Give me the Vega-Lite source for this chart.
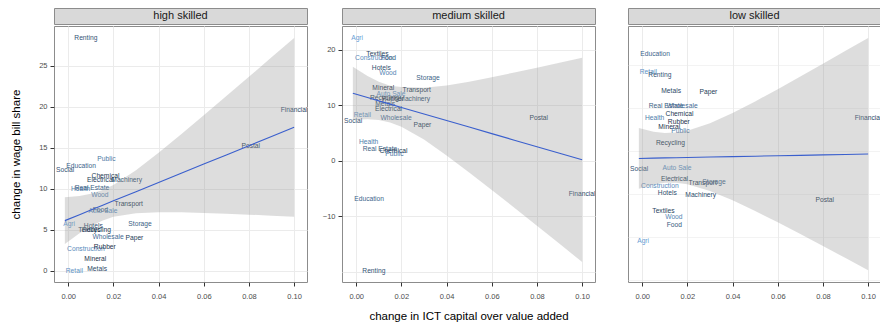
{
  "$schema": "https://vega.github.io/schema/vega-lite/v6.json",
  "background": "white",
  "padding": {"left": 10, "top": 7, "right": 0, "bottom": 0},
  "config": {
    "font": "Liberation Sans",
    "axis": {
      "domain": false,
      "labelFont": "Liberation Sans",
      "labelFontSize": 7.5,
      "labelColor": "#4d4d4d",
      "tickColor": "#333333",
      "tickSize": 4,
      "labelPadding": 3,
      "gridColor": "#ebebeb",
      "titleFont": "Liberation Sans",
      "titleFontSize": 11.5,
      "titleFontWeight": "normal",
      "titleColor": "#000000"
    }
  },
  "datasets": {
    "inds": [
      {"industry": "Agri", "shade": 0.95},
      {"industry": "Retail", "shade": 0.85},
      {"industry": "Construction", "shade": 0.8},
      {"industry": "Auto Sale", "shade": 0.85},
      {"industry": "Wood", "shade": 0.75},
      {"industry": "Health", "shade": 0.7},
      {"industry": "Public", "shade": 0.65},
      {"industry": "Wholesale", "shade": 0.55},
      {"industry": "Education", "shade": 0.5},
      {"industry": "Real Estate", "shade": 0.45},
      {"industry": "Storage", "shade": 0.45},
      {"industry": "Food", "shade": 0.4},
      {"industry": "Social", "shade": 0.35},
      {"industry": "Renting", "shade": 0.35},
      {"industry": "Hotels", "shade": 0.3},
      {"industry": "Machinery", "shade": 0.3},
      {"industry": "Metals", "shade": 0.25},
      {"industry": "Financial", "shade": 0.25},
      {"industry": "Textiles", "shade": 0.2},
      {"industry": "Paper", "shade": 0.15},
      {"industry": "Electrical", "shade": 0.15},
      {"industry": "Chemical", "shade": 0.1},
      {"industry": "Transport", "shade": 0.1},
      {"industry": "Recycling", "shade": 0.1},
      {"industry": "Postal", "shade": 0.1},
      {"industry": "Mineral", "shade": 0.05},
      {"industry": "Rubber", "shade": 0.05}
    ],
    "pts": [
      {"skill": "high", "industry": "Renting", "ict": 0.0078, "wage": 28.4},
      {"skill": "high", "industry": "Public", "ict": 0.0169, "wage": 13.7},
      {"skill": "high", "industry": "Education", "ict": 0.0057, "wage": 12.8},
      {"skill": "high", "industry": "Social", "ict": -0.0014, "wage": 12.35},
      {"skill": "high", "industry": "Chemical", "ict": 0.0165, "wage": 11.6},
      {"skill": "high", "industry": "Electrical", "ict": 0.0143, "wage": 11.06},
      {"skill": "high", "industry": "Machinery", "ict": 0.0259, "wage": 11.1},
      {"skill": "high", "industry": "Health", "ict": 0.0055, "wage": 9.96},
      {"skill": "high", "industry": "Real Estate", "ict": 0.0105, "wage": 10.1},
      {"skill": "high", "industry": "Wood", "ict": 0.014, "wage": 9.23},
      {"skill": "high", "industry": "Transport", "ict": 0.0268, "wage": 8.2},
      {"skill": "high", "industry": "Auto Sale", "ict": 0.0154, "wage": 7.28},
      {"skill": "high", "industry": "Food", "ict": 0.0142, "wage": 7.4},
      {"skill": "high", "industry": "Agri", "ict": 0.0004, "wage": 5.7},
      {"skill": "high", "industry": "Hotels", "ict": 0.0111, "wage": 5.52},
      {"skill": "high", "industry": "Textiles", "ict": 0.0094, "wage": 5.04},
      {"skill": "high", "industry": "Recycling", "ict": 0.0125, "wage": 5.04},
      {"skill": "high", "industry": "Storage", "ict": 0.0318, "wage": 5.7},
      {"skill": "high", "industry": "Wholesale", "ict": 0.0176, "wage": 4.18},
      {"skill": "high", "industry": "Paper", "ict": 0.0293, "wage": 4.06},
      {"skill": "high", "industry": "Construction", "ict": 0.0078, "wage": 2.72},
      {"skill": "high", "industry": "Rubber", "ict": 0.0162, "wage": 2.96},
      {"skill": "high", "industry": "Mineral", "ict": 0.012, "wage": 1.43},
      {"skill": "high", "industry": "Metals", "ict": 0.0128, "wage": 0.28},
      {"skill": "high", "industry": "Retail", "ict": 0.0027, "wage": 0.0},
      {"skill": "high", "industry": "Postal", "ict": 0.0808, "wage": 15.2},
      {"skill": "high", "industry": "Financial", "ict": 0.1, "wage": 19.6},

      {"skill": "medium", "industry": "Agri", "ict": 0.0004, "wage": 22.1},
      {"skill": "medium", "industry": "Textiles", "ict": 0.0094, "wage": 19.2},
      {"skill": "medium", "industry": "Construction", "ict": 0.0078, "wage": 18.6},
      {"skill": "medium", "industry": "Food", "ict": 0.0142, "wage": 18.5},
      {"skill": "medium", "industry": "Hotels", "ict": 0.0111, "wage": 16.7},
      {"skill": "medium", "industry": "Wood", "ict": 0.014, "wage": 15.8},
      {"skill": "medium", "industry": "Storage", "ict": 0.0318, "wage": 15.0},
      {"skill": "medium", "industry": "Mineral", "ict": 0.012, "wage": 13.2},
      {"skill": "medium", "industry": "Transport", "ict": 0.0268, "wage": 12.8},
      {"skill": "medium", "industry": "Auto Sale", "ict": 0.0154, "wage": 12.1},
      {"skill": "medium", "industry": "Machinery", "ict": 0.0259, "wage": 11.2},
      {"skill": "medium", "industry": "Recycling", "ict": 0.0125, "wage": 11.3},
      {"skill": "medium", "industry": "Rubber", "ict": 0.0162, "wage": 11.1},
      {"skill": "medium", "industry": "Metals", "ict": 0.0128, "wage": 10.3},
      {"skill": "medium", "industry": "Electrical", "ict": 0.0143, "wage": 9.4},
      {"skill": "medium", "industry": "Retail", "ict": 0.0027, "wage": 8.2},
      {"skill": "medium", "industry": "Social", "ict": -0.0014, "wage": 7.2},
      {"skill": "medium", "industry": "Wholesale", "ict": 0.0176, "wage": 7.8},
      {"skill": "medium", "industry": "Paper", "ict": 0.0293, "wage": 6.4},
      {"skill": "medium", "industry": "Health", "ict": 0.0055, "wage": 3.5},
      {"skill": "medium", "industry": "Real Estate", "ict": 0.0105, "wage": 2.1},
      {"skill": "medium", "industry": "Chemical", "ict": 0.0165, "wage": 1.8},
      {"skill": "medium", "industry": "Public", "ict": 0.0169, "wage": 1.2},
      {"skill": "medium", "industry": "Education", "ict": 0.0057, "wage": -6.8},
      {"skill": "medium", "industry": "Renting", "ict": 0.0078, "wage": -19.9},
      {"skill": "medium", "industry": "Postal", "ict": 0.0808, "wage": 7.8},
      {"skill": "medium", "industry": "Financial", "ict": 0.1, "wage": -6.0},

      {"skill": "low", "industry": "Education", "ict": 0.0057, "wage": -6.2},
      {"skill": "low", "industry": "Retail", "ict": 0.0027, "wage": -8.34},
      {"skill": "low", "industry": "Renting", "ict": 0.0078, "wage": -8.64},
      {"skill": "low", "industry": "Metals", "ict": 0.0128, "wage": -10.55},
      {"skill": "low", "industry": "Paper", "ict": 0.0293, "wage": -10.6},
      {"skill": "low", "industry": "Real Estate", "ict": 0.0105, "wage": -12.2},
      {"skill": "low", "industry": "Wholesale", "ict": 0.0176, "wage": -12.2},
      {"skill": "low", "industry": "Health", "ict": 0.0055, "wage": -13.6},
      {"skill": "low", "industry": "Chemical", "ict": 0.0165, "wage": -13.2},
      {"skill": "low", "industry": "Rubber", "ict": 0.0162, "wage": -14.1},
      {"skill": "low", "industry": "Mineral", "ict": 0.012, "wage": -14.7},
      {"skill": "low", "industry": "Public", "ict": 0.0169, "wage": -15.15},
      {"skill": "low", "industry": "Recycling", "ict": 0.0125, "wage": -16.6},
      {"skill": "low", "industry": "Social", "ict": -0.0014, "wage": -19.6},
      {"skill": "low", "industry": "Auto Sale", "ict": 0.0154, "wage": -19.45},
      {"skill": "low", "industry": "Electrical", "ict": 0.0143, "wage": -20.7},
      {"skill": "low", "industry": "Transport", "ict": 0.0268, "wage": -21.2},
      {"skill": "low", "industry": "Storage", "ict": 0.0318, "wage": -21.05},
      {"skill": "low", "industry": "Construction", "ict": 0.0078, "wage": -21.6},
      {"skill": "low", "industry": "Hotels", "ict": 0.0111, "wage": -22.4},
      {"skill": "low", "industry": "Machinery", "ict": 0.0259, "wage": -22.6},
      {"skill": "low", "industry": "Textiles", "ict": 0.0094, "wage": -24.4},
      {"skill": "low", "industry": "Wood", "ict": 0.014, "wage": -25.2},
      {"skill": "low", "industry": "Food", "ict": 0.0142, "wage": -26.1},
      {"skill": "low", "industry": "Agri", "ict": 0.0004, "wage": -27.9},
      {"skill": "low", "industry": "Financial", "ict": 0.1, "wage": -13.6},
      {"skill": "low", "industry": "Postal", "ict": 0.0808, "wage": -23.2}
    ],
    "band": [
      {"skill": "high", "ict": -0.0015, "fit": 6.13, "lo": 3.28, "hi": 8.98},
      {"skill": "high", "ict": 0.005, "fit": 6.86, "lo": 4.58, "hi": 9.14},
      {"skill": "high", "ict": 0.01, "fit": 7.42, "lo": 5.44, "hi": 9.4},
      {"skill": "high", "ict": 0.015, "fit": 7.98, "lo": 6.13, "hi": 9.83},
      {"skill": "high", "ict": 0.02, "fit": 8.54, "lo": 6.6, "hi": 10.48},
      {"skill": "high", "ict": 0.03, "fit": 9.66, "lo": 7.04, "hi": 12.28},
      {"skill": "high", "ict": 0.04, "fit": 10.78, "lo": 7.16, "hi": 14.4},
      {"skill": "high", "ict": 0.05, "fit": 11.9, "lo": 7.14, "hi": 16.66},
      {"skill": "high", "ict": 0.06, "fit": 13.02, "lo": 7.07, "hi": 18.97},
      {"skill": "high", "ict": 0.07, "fit": 14.14, "lo": 6.97, "hi": 21.31},
      {"skill": "high", "ict": 0.08, "fit": 15.26, "lo": 6.86, "hi": 23.66},
      {"skill": "high", "ict": 0.09, "fit": 16.38, "lo": 6.73, "hi": 26.03},
      {"skill": "high", "ict": 0.1, "fit": 17.5, "lo": 6.6, "hi": 28.4},

      {"skill": "medium", "ict": -0.0015, "fit": 12.18, "lo": 7.4, "hi": 16.96},
      {"skill": "medium", "ict": 0.005, "fit": 11.41, "lo": 7.52, "hi": 15.3},
      {"skill": "medium", "ict": 0.01, "fit": 10.82, "lo": 7.37, "hi": 14.27},
      {"skill": "medium", "ict": 0.015, "fit": 10.23, "lo": 6.94, "hi": 13.52},
      {"skill": "medium", "ict": 0.02, "fit": 9.64, "lo": 6.17, "hi": 13.3},
      {"skill": "medium", "ict": 0.03, "fit": 8.46, "lo": 3.85, "hi": 13.2},
      {"skill": "medium", "ict": 0.04, "fit": 7.28, "lo": 1.0, "hi": 13.6},
      {"skill": "medium", "ict": 0.05, "fit": 6.1, "lo": -2.07, "hi": 14.27},
      {"skill": "medium", "ict": 0.06, "fit": 4.92, "lo": -5.23, "hi": 15.07},
      {"skill": "medium", "ict": 0.07, "fit": 3.74, "lo": -8.44, "hi": 15.92},
      {"skill": "medium", "ict": 0.08, "fit": 2.56, "lo": -11.68, "hi": 16.8},
      {"skill": "medium", "ict": 0.09, "fit": 1.38, "lo": -14.93, "hi": 17.69},
      {"skill": "medium", "ict": 0.1, "fit": 0.2, "lo": -18.2, "hi": 18.6},

      {"skill": "low", "ict": -0.0015, "fit": -18.34, "lo": -21.87, "hi": -14.81},
      {"skill": "low", "ict": 0.005, "fit": -18.31, "lo": -21.38, "hi": -15.24},
      {"skill": "low", "ict": 0.01, "fit": -18.28, "lo": -21.18, "hi": -15.38},
      {"skill": "low", "ict": 0.015, "fit": -18.26, "lo": -21.18, "hi": -15.34},
      {"skill": "low", "ict": 0.02, "fit": -18.23, "lo": -21.35, "hi": -15.11},
      {"skill": "low", "ict": 0.03, "fit": -18.18, "lo": -22.12, "hi": -14.24},
      {"skill": "low", "ict": 0.04, "fit": -18.13, "lo": -23.21, "hi": -13.05},
      {"skill": "low", "ict": 0.05, "fit": -18.08, "lo": -24.45, "hi": -11.71},
      {"skill": "low", "ict": 0.06, "fit": -18.03, "lo": -25.77, "hi": -10.29},
      {"skill": "low", "ict": 0.07, "fit": -17.98, "lo": -27.13, "hi": -8.83},
      {"skill": "low", "ict": 0.08, "fit": -17.93, "lo": -28.52, "hi": -7.34},
      {"skill": "low", "ict": 0.09, "fit": -17.88, "lo": -29.92, "hi": -5.84},
      {"skill": "low", "ict": 0.1, "fit": -17.83, "lo": -31.33, "hi": -4.33}
    ]
  },
  "hconcat": [
    {
      "spacing": 0,
      "vconcat": [
        {
          "width": 253, "height": 16,
          "view": {"fill": "#d9d9d9", "stroke": "#8c8c8c"},
          "data": {"values": [{"panel": "high skilled"}]},
          "mark": {"type": "text", "fontSize": 11, "color": "#1a1a1a", "baseline": "middle", "font": "Liberation Sans"},
          "encoding": {"text": {"field": "panel"}}
        },
        {
          "width": 253, "height": 256,
          "view": {"stroke": "#8c8c8c"},
          "layer": [
            {
              "data": {"name": "pts"},
              "transform": [
                {"filter": "datum.skill == 'high'"},
                {"lookup": "industry", "from": {"data": {"name": "inds"}, "key": "industry", "fields": ["shade"]}}
              ],
              "mark": {"type": "text", "fontSize": 6.7, "clip": true, "font": "Liberation Sans"},
              "encoding": {
                "x": {"field": "ict", "type": "quantitative", "title": null,
                  "scale": {"domain": [-0.0063, 0.1057], "nice": false, "zero": false},
                  "axis": {"values": [0, 0.01, 0.02, 0.03, 0.04, 0.05, 0.06, 0.07, 0.08, 0.09, 0.1],
                    "labelExpr": "round(datum.value*100) % 2 == 0 ? format(datum.value, '.2f') : ''",
                    "tickOpacity": {"condition": {"test": "round(datum.value*100) % 2 != 0", "value": 0}, "value": 1},
                    "gridWidth": {"condition": {"test": "round(datum.value*100) % 2 != 0", "value": 0.6}, "value": 1},
                    "labelPadding": 6}},
                "y": {"field": "wage", "type": "quantitative", "title": "change in wage bill share",
                  "scale": {"domain": [-1.35, 29.85], "nice": false, "zero": false},
                  "axis": {"values": [0, 2.5, 5, 7.5, 10, 12.5, 15, 17.5, 20, 22.5, 25, 27.5],
                    "labelExpr": "datum.value % 5 == 0 ? format(datum.value, 'd') : ''",
                    "tickOpacity": {"condition": {"test": "datum.value % 5 != 0", "value": 0}, "value": 1},
                    "gridWidth": {"condition": {"test": "datum.value % 5 != 0", "value": 0.6}, "value": 1},
                    "titlePadding": 17}},
                "text": {"field": "industry"},
                "color": {"field": "shade", "type": "quantitative", "legend": null,
                  "scale": {"domain": [0, 1], "range": ["#1a2d44", "#6aa4dc"], "interpolate": "lab"}}
              }
            },
            {
              "data": {"name": "band"},
              "transform": [{"filter": "datum.skill == 'high'"}],
              "mark": {"type": "area", "color": "#999999", "opacity": 0.33},
              "encoding": {
                "x": {"field": "ict", "type": "quantitative", "title": null},
                "y": {"field": "lo", "type": "quantitative", "title": "change in wage bill share"},
                "y2": {"field": "hi"}
              }
            },
            {
              "data": {"name": "band"},
              "transform": [{"filter": "datum.skill == 'high'"}],
              "mark": {"type": "line", "color": "#3a5fcd", "strokeWidth": 1.1},
              "encoding": {
                "x": {"field": "ict", "type": "quantitative", "title": null},
                "y": {"field": "fit", "type": "quantitative", "title": "change in wage bill share"}
              }
            }
          ]
        }
      ]
    },
    {
      "spacing": 0,
      "vconcat": [
        {
          "width": 253, "height": 16,
          "view": {"fill": "#d9d9d9", "stroke": "#8c8c8c"},
          "data": {"values": [{"panel": "medium skilled"}]},
          "mark": {"type": "text", "fontSize": 11, "color": "#1a1a1a", "baseline": "middle", "font": "Liberation Sans"},
          "encoding": {"text": {"field": "panel"}}
        },
        {
          "width": 253, "height": 256,
          "view": {"stroke": "#8c8c8c"},
          "layer": [
            {
              "data": {"name": "pts"},
              "transform": [
                {"filter": "datum.skill == 'medium'"},
                {"lookup": "industry", "from": {"data": {"name": "inds"}, "key": "industry", "fields": ["shade"]}}
              ],
              "mark": {"type": "text", "fontSize": 6.7, "clip": true, "font": "Liberation Sans"},
              "encoding": {
                "x": {"field": "ict", "type": "quantitative", "title": "change in ICT capital over value added",
                  "scale": {"domain": [-0.0063, 0.1057], "nice": false, "zero": false},
                  "axis": {"values": [0, 0.01, 0.02, 0.03, 0.04, 0.05, 0.06, 0.07, 0.08, 0.09, 0.1],
                    "labelExpr": "round(datum.value*100) % 2 == 0 ? format(datum.value, '.2f') : ''",
                    "tickOpacity": {"condition": {"test": "round(datum.value*100) % 2 != 0", "value": 0}, "value": 1},
                    "gridWidth": {"condition": {"test": "round(datum.value*100) % 2 != 0", "value": 0.6}, "value": 1},
                    "labelPadding": 6, "titlePadding": 11}},
                "y": {"field": "wage", "type": "quantitative", "title": null,
                  "scale": {"domain": [-21.8, 24.3], "nice": false, "zero": false},
                  "axis": {"values": [-20, -15, -10, -5, 0, 5, 10, 15, 20],
                    "minExtent": 19, "maxExtent": 19,
                    "labelExpr": "(datum.value % 10 == 0 && datum.value > -15) ? format(datum.value, 'd') : ''",
                    "tickOpacity": {"condition": {"test": "!(datum.value % 10 == 0 && datum.value > -15)", "value": 0}, "value": 1},
                    "gridWidth": {"condition": {"test": "datum.value % 10 != 0", "value": 0.6}, "value": 1}}},
                "text": {"field": "industry"},
                "color": {"field": "shade", "type": "quantitative", "legend": null,
                  "scale": {"domain": [0, 1], "range": ["#1a2d44", "#6aa4dc"], "interpolate": "lab"}}
              }
            },
            {
              "data": {"name": "band"},
              "transform": [{"filter": "datum.skill == 'medium'"}],
              "mark": {"type": "area", "color": "#999999", "opacity": 0.33},
              "encoding": {
                "x": {"field": "ict", "type": "quantitative", "title": "change in ICT capital over value added"},
                "y": {"field": "lo", "type": "quantitative", "title": null},
                "y2": {"field": "hi"}
              }
            },
            {
              "data": {"name": "band"},
              "transform": [{"filter": "datum.skill == 'medium'"}],
              "mark": {"type": "line", "color": "#3a5fcd", "strokeWidth": 1.1},
              "encoding": {
                "x": {"field": "ict", "type": "quantitative", "title": "change in ICT capital over value added"},
                "y": {"field": "fit", "type": "quantitative", "title": null}
              }
            }
          ]
        }
      ]
    },
    {
      "spacing": 0,
      "vconcat": [
        {
          "width": 253, "height": 16,
          "view": {"fill": "#d9d9d9", "stroke": "#8c8c8c"},
          "data": {"values": [{"panel": "low skilled"}]},
          "mark": {"type": "text", "fontSize": 11, "color": "#1a1a1a", "baseline": "middle", "font": "Liberation Sans"},
          "encoding": {"text": {"field": "panel"}}
        },
        {
          "width": 253, "height": 256,
          "view": {"stroke": "#8c8c8c"},
          "layer": [
            {
              "data": {"name": "pts"},
              "transform": [
                {"filter": "datum.skill == 'low'"},
                {"lookup": "industry", "from": {"data": {"name": "inds"}, "key": "industry", "fields": ["shade"]}}
              ],
              "mark": {"type": "text", "fontSize": 6.7, "clip": true, "font": "Liberation Sans"},
              "encoding": {
                "x": {"field": "ict", "type": "quantitative", "title": null,
                  "scale": {"domain": [-0.0063, 0.1057], "nice": false, "zero": false},
                  "axis": {"values": [0, 0.01, 0.02, 0.03, 0.04, 0.05, 0.06, 0.07, 0.08, 0.09, 0.1],
                    "labelExpr": "round(datum.value*100) % 2 == 0 ? format(datum.value, '.2f') : ''",
                    "tickOpacity": {"condition": {"test": "round(datum.value*100) % 2 != 0", "value": 0}, "value": 1},
                    "gridWidth": {"condition": {"test": "round(datum.value*100) % 2 != 0", "value": 0.6}, "value": 1},
                    "labelPadding": 6}},
                "y": {"field": "wage", "type": "quantitative", "title": null,
                  "scale": {"domain": [-32.7, -2.95], "nice": false, "zero": false},
                  "axis": {"values": [-32.5, -30, -27.5, -25, -22.5, -20, -17.5, -15, -12.5, -10, -7.5, -5],
                    "minExtent": 18, "maxExtent": 18,
                    "labelExpr": "datum.value % 5 == 0 ? format(datum.value, 'd') : ''",
                    "tickOpacity": {"condition": {"test": "datum.value % 5 != 0", "value": 0}, "value": 1},
                    "gridWidth": {"condition": {"test": "datum.value % 5 != 0", "value": 0.6}, "value": 1}}},
                "text": {"field": "industry"},
                "color": {"field": "shade", "type": "quantitative", "legend": null,
                  "scale": {"domain": [0, 1], "range": ["#1a2d44", "#6aa4dc"], "interpolate": "lab"}}
              }
            },
            {
              "data": {"name": "band"},
              "transform": [{"filter": "datum.skill == 'low'"}],
              "mark": {"type": "area", "color": "#999999", "opacity": 0.33},
              "encoding": {
                "x": {"field": "ict", "type": "quantitative", "title": null},
                "y": {"field": "lo", "type": "quantitative", "title": null},
                "y2": {"field": "hi"}
              }
            },
            {
              "data": {"name": "band"},
              "transform": [{"filter": "datum.skill == 'low'"}],
              "mark": {"type": "line", "color": "#3a5fcd", "strokeWidth": 1.1},
              "encoding": {
                "x": {"field": "ict", "type": "quantitative", "title": null},
                "y": {"field": "fit", "type": "quantitative", "title": null}
              }
            }
          ]
        }
      ]
    }
  ],
  "spacing": 13
}
